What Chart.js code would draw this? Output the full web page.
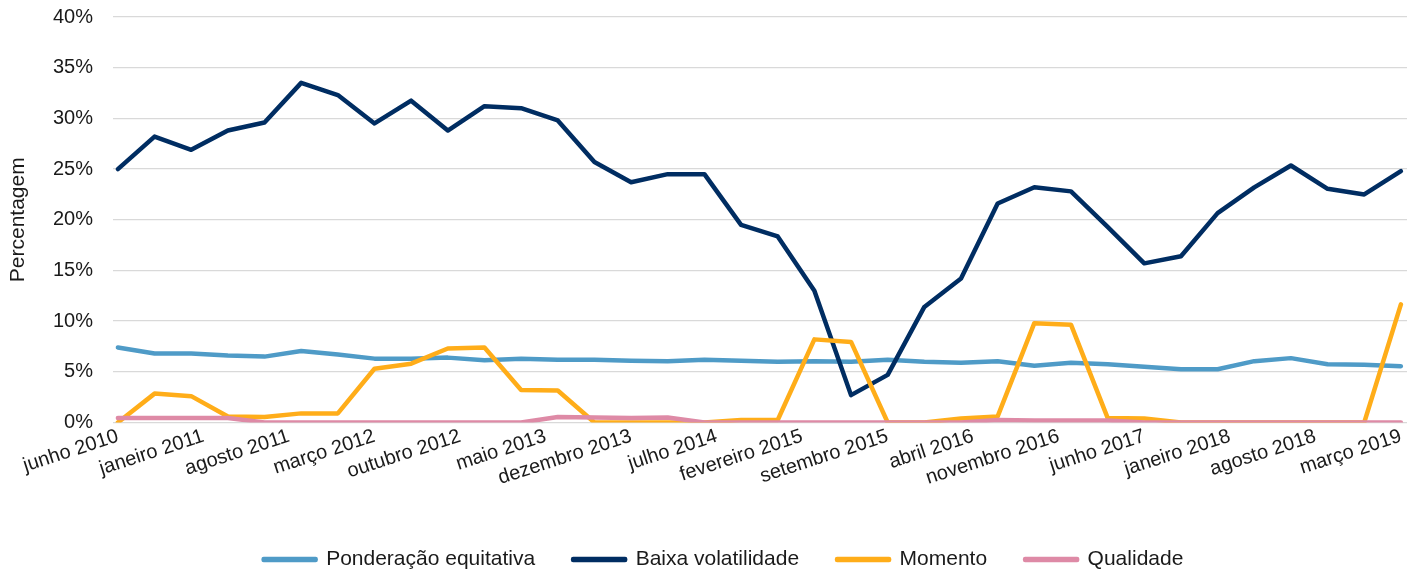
<!DOCTYPE html>
<html>
<head>
<meta charset="utf-8">
<script src="https://cdn.jsdelivr.net/npm/chart.js@4/dist/chart.umd.min.js"></script>
<style>
	html, body { margin: 0; padding: 0; background: #fff; }
	#wrap { width: 1419px; height: 573px; }
</style>
</head>
<body>
<div id="wrap"><canvas id="chart" width="1419" height="573"></canvas></div>
<script>
// quarterly observations, jun 2010 .. mar 2019
var quarters = ['2010-06','2010-09','2010-12','2011-03','2011-06','2011-09','2011-12','2012-03','2012-06',
	'2012-09','2012-12','2013-03','2013-06','2013-09','2013-12','2014-03','2014-06','2014-09','2014-12',
	'2015-03','2015-06','2015-09','2015-12','2016-03','2016-06','2016-09','2016-12','2017-03','2017-06',
	'2017-09','2017-12','2018-03','2018-06','2018-09','2018-12','2019-03']

// tick labels, one every 7 months from junho 2010
var tickLabels = ['junho 2010','janeiro 2011','agosto 2011','março 2012','outubro 2012','maio 2013',
	'dezembro 2013','julho 2014','fevereiro 2015','setembro 2015','abril 2016','novembro 2016',
	'junho 2017','janeiro 2018','agosto 2018','março 2019']

var ponderacao = [7.4, 6.8, 6.8, 6.6, 6.5, 7.05, 6.7, 6.3, 6.3, 6.4, 6.15, 6.3, 6.2, 6.2, 6.1, 6.05, 6.2, 6.1,
	6.0, 6.05, 6.0, 6.2, 6.0, 5.9, 6.05, 5.6, 5.9, 5.75, 5.5, 5.25, 5.25, 6.05, 6.35, 5.75, 5.7, 5.55]
var baixaVol = [25.0, 28.2, 26.9, 28.8, 29.6, 33.5, 32.3, 29.5, 31.75, 28.8, 31.2, 31.0, 29.8, 25.7, 23.7, 24.5, 24.5, 19.5,
	18.35, 13.0, 2.7, 4.7, 11.4, 14.2, 21.6, 23.2, 22.8, 19.3, 15.7, 16.4, 20.65, 23.2, 25.35, 23.05, 22.5, 24.8]
var momento = [0, 2.85, 2.6, 0.6, 0.55, 0.9, 0.9, 5.3, 5.8, 7.3, 7.4, 3.2, 3.15, 0, 0, 0, 0, 0.25,
	0.25, 8.2, 7.95, 0, 0, 0.4, 0.6, 9.8, 9.65, 0.45, 0.4, 0, 0, 0, 0, 0, 0, 11.65]
var qualidade = [0.45, 0.45, 0.45, 0.45, 0, 0, 0, 0, 0, 0, 0, 0, 0.55, 0.5, 0.45, 0.5, 0, 0,
	0, 0, 0, 0, 0, 0, 0.25, 0.2, 0.2, 0.2, 0, 0, 0, 0, 0, 0, 0, 0]

var seriesNames = ['Ponderação equitativa', 'Baixa volatilidade', 'Momento', 'Qualidade']
var seriesColors = ['#4F9BC7', '#002D62', '#FFAD19', '#DE8AA6']

// months since junho 2010
function monthIndex(q) {
	var p = q.split('-')
	return (parseInt(p[0]) - 2010) * 12 + parseInt(p[1]) - 6
}

function toPoints(values) {
	return values.map(function(v, i) {
		return { x: monthIndex(quarters[i]), y: v }
	})
}

var font = "'Liberation Sans', Arial, sans-serif"
var allValues = [ponderacao, baixaVol, momento, qualidade]

var datasets = allValues.map(function(vals, i) {
	return {
		label: seriesNames[i],
		data: toPoints(vals),
		borderColor: seriesColors[i],
		backgroundColor: seriesColors[i],
		borderWidth: 4.5,
		borderJoinStyle: 'round',
		borderCapStyle: 'round',
		pointRadius: 0,
		tension: 0,
		order: 4 - i   // later series drawn on top, like the original
	}
})

new Chart(document.getElementById('chart'), {
	type: 'line',
	data: { datasets: datasets },
	options: {
		responsive: false,
		animation: false,
		layout: { padding: { top: 17, right: 12, left: 40, bottom: -7 } },
		plugins: {
			tooltip: { enabled: false },
			legend: {
				position: 'bottom',
				labels: {
					boxWidth: 52,
					boxHeight: 1,
					padding: 38,
					color: '#1a1a1a',
					font: { family: font, size: 21 },
					sort: function(a, b) { return a.datasetIndex - b.datasetIndex }
				}
			}
		},
		scales: {
			x: {
				type: 'linear',
				min: -0.4,
				max: 105.5,
				grid: { display: false },
				border: { display: false },
				afterFit: function(scale) { scale.height = 88.5 },
				ticks: {
					stepSize: 7,
					includeBounds: false,
					autoSkip: false,
					minRotation: 18,
					maxRotation: 18,
					padding: -6,
					color: '#1a1a1a',
					font: { family: font, size: 20 },
					callback: function(v) {
						var k = Math.round(v / 7)
						return tickLabels[k] || ''
					}
				}
			},
			y: {
				min: 0,
				max: 40,
				afterFit: function(scale) { scale.width = 73 },
				grid: { color: '#D9D9D9', lineWidth: 1.3, drawTicks: true, tickLength: 18, tickColor: 'rgba(0,0,0,0)' },
				border: { display: false },
				title: {
					display: true,
					text: 'Percentagem',
					color: '#1a1a1a',
					font: { family: font, size: 21 },
					padding: { top: -34, bottom: 0 }
				},
				ticks: {
					stepSize: 5,
					padding: 2,
					color: '#1a1a1a',
					font: { family: font, size: 20 },
					callback: function(v) { return v + '%' }
				}
			}
		}
	}
})
</script>
</body>
</html>
